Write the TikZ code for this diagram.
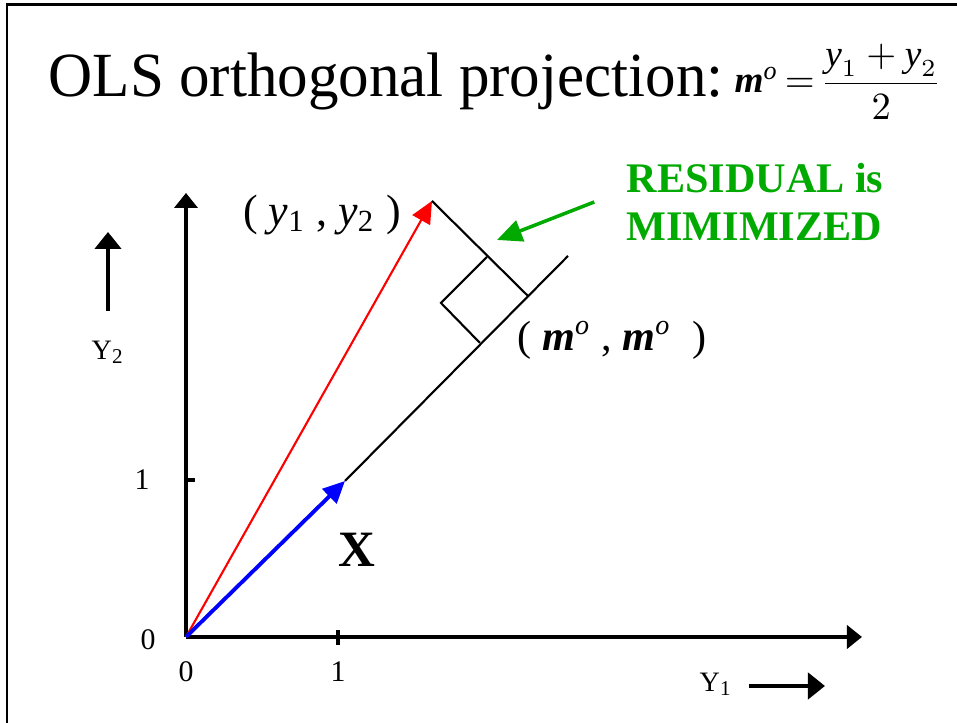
\documentclass[tikz,border=0pt]{standalone}
\usepackage{amsmath,amssymb}
\usepackage{xcolor}
\usepackage{fontspec}
\setmainfont{Liberation Serif}
\usepackage{tikz}
\usetikzlibrary{arrows.meta}
\definecolor{resgreen}{RGB}{0,170,0}
\newcommand{\fsz}[1]{\fontsize{#1}{#1}\selectfont}
\newcommand{\bim}{{\bfseries\itshape m}}

\begin{document}
\begin{tikzpicture}[
  axis/.style={line width=1.2pt,-{Triangle[width=0.23cm,length=0.15cm]}},
  dirarrow/.style={line width=1.2pt,-{Triangle[width=0.26cm,length=0.17cm]}},
  vec/.style={-{Triangle[width=0.2cm,length=0.22cm]}},
  lbl/.style={inner sep=1pt}]
\useasboundingbox (0,0) rectangle (9.57,7.23);
\draw[line width=0.85pt] (0.07,0) -- (0.07,7.18) -- (9.57,7.18);
% points
\coordinate (O) at (1.86,0.86);
\coordinate (ytip) at (1.86,5.30);
\coordinate (xtip) at (8.62,0.86);
\coordinate (X) at (3.45,2.42);
\coordinate (Y) at (4.32,5.22);
\coordinate (foot) at (5.28,4.27);
\coordinate (lend) at (5.68,4.67);
% title
\node[anchor=base west,inner sep=0] (title) at (0.48,6.26) {\fsz{17.2}\scalebox{1.01}[1.04]{OLS orthogonal projection:}};
\node[anchor=base west,inner sep=0] (mzero) at (7.34,6.30)
  {\fsz{10.6}$\text{\bim}^{\text{\itshape o}}\,{=}\,\dfrac{\text{\itshape y}_{1}+\text{\itshape y}_{2}}{2}$};
% axes
\draw[axis] (O) -- (ytip);
\draw[axis] (O) -- (xtip);
\draw[line width=1.2pt] (3.38,0.78) -- (3.38,0.93);
\draw[line width=1.2pt] (1.84,2.43) -- (1.95,2.43);
\node[lbl] (xzero) at (1.86,0.51) {\fsz{8.5}0};
\node[lbl] (xone) at (3.38,0.51) {\fsz{8.5}1};
\node[lbl] (yzero) at (1.48,0.83) {\fsz{8.5}0};
\node[lbl] (yone) at (1.42,2.43) {\fsz{8.5}1};
\node[lbl] (yonelab) at (7.16,0.39) {\fsz{8}Y\textsubscript{1}};
\node[lbl] (ytwolab) at (1.08,3.71) {\fsz{8}Y\textsubscript{2}};
\coordinate (yoneend) at (8.25,0.37);
\coordinate (ytwoend) at (1.08,4.91);
\draw[dirarrow] ([xshift=0.12cm]yonelab.east |- yoneend) -- (yoneend);
\draw[dirarrow] ([yshift=0.25cm]ytwolab.north) -- (ytwoend);
% vectors
\draw[vec,red,line width=0.6pt] (O) -- (Y);
\draw[vec,blue,line width=1.1pt] (O) -- (X);
\draw[line width=0.6pt] (X) -- (lend);
\draw[line width=0.6pt] (Y) -- (foot);
\draw[line width=0.6pt] (4.87,4.66) -- (4.41,4.20) -- (4.80,3.80);
\node (xlab) at (3.57,1.73) {\fsz{14.5}\bfseries X};
\node (ypt) at (3.22,5.08) {\fsz{12.5}( \textit{y}\textsubscript{1} , \textit{y}\textsubscript{2} )};
\node (mpt) at (6.12,3.83) {\fsz{12}( \bim\textsuperscript{\itshape o} , \bim\textsuperscript{\itshape o} \ )};
% residual note
\node[align=left,text=resgreen,font={\fontsize{12}{13.7}\selectfont\bfseries}] (resid) at (7.55,5.21) {RESIDUAL is\\MIMIMIZED};
\coordinate (restip) at (4.97,4.83);
\draw[resgreen,line width=1pt,-{Triangle[width=0.22cm,length=0.25cm]}] ([xshift=-0.2cm]resid.west) -- (restip);
\end{tikzpicture}
\end{document}
